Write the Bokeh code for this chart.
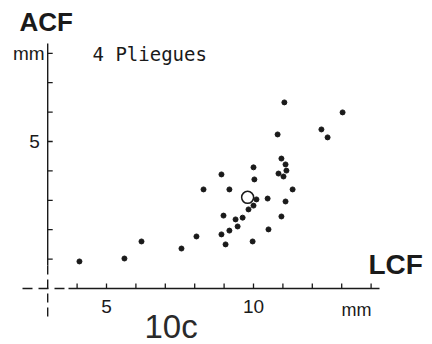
from bokeh.plotting import figure
from bokeh.models import Range1d, ColumnDataSource
from bokeh.core.properties import value
from bokeh.embed import file_html
from bokeh.resources import INLINE

# ---- data ----
lcf = [4.08, 5.61, 6.19, 7.55, 8.06, 8.30, 8.91, 8.91, 8.98, 9.05, 9.18, 9.18,
       9.39, 9.46, 9.63, 9.83, 10.00, 10.03, 10.00, 9.97, 10.10, 10.48, 10.51,
       10.82, 10.85, 10.95, 11.02, 11.09, 11.12, 10.95, 11.09, 11.33, 11.05,
       12.31, 12.52, 13.03]
acf = [0.92, 1.02, 1.60, 1.36, 1.77, 3.37, 3.88, 1.84, 2.48, 1.50, 3.37, 1.97,
       2.35, 2.11, 2.41, 2.69, 4.12, 3.71, 2.82, 1.60, 3.03, 3.06, 2.01,
       5.24, 3.91, 4.42, 3.81, 4.22, 4.01, 2.45, 2.96, 3.37, 6.33,
       5.41, 5.14, 5.99]
mean_lcf = [9.80]
mean_acf = [3.10]

x_ticks = [4, 5, 6, 7, 8, 9, 10, 11, 12, 13, 14]
x_tick_labels = {5: "5", 10: "10"}
y_ticks = [1, 2, 3, 4, 5, 6, 7, 8]
y_tick_labels = {5: "5", 8: "mm"}
title_text = "4 Pliegues"
x_title = "LCF"
y_title = "ACF"
panel_label = "10c"

# ---- geometry ----
W, H = 432, 344
S = 29.4            # pixels per mm
X0_PX, X0_VAL = 106, 5.0
Y0_PX = 288         # pixel row of y = 0

def dx(px):
    return X0_VAL + (px - X0_PX) / S

def dy(py):
    return (Y0_PX - py) / S

p = figure(width=W, height=H, output_backend="svg", toolbar_location=None,
           x_range=Range1d(dx(0), dx(W)), y_range=Range1d(dy(H), dy(0)),
           min_border=0, outline_line_color=None)
p.axis.visible = False
p.grid.visible = False
p.background_fill_color = "white"
p.border_fill_color = "white"

ink = "#1a1a1a"
ax_x = 3.0   # x value where the vertical axis sits
ax_y = 0.0   # y value where the horizontal axis sits

# axes: solid parts
p.segment(x0=[dx(68)], y0=[ax_y], x1=[dx(379)], y1=[ax_y], line_color=ink, line_width=1.4)
p.segment(x0=[ax_x], y0=[dy(265)], x1=[ax_x], y1=[dy(43)], line_color=ink, line_width=1.4)
# dashed extensions
p.segment(x0=[dx(22)], y0=[ax_y], x1=[dx(68)], y1=[ax_y], line_color=ink,
          line_width=1.4, line_dash="10 6")
p.segment(x0=[ax_x], y0=[dy(265)], x1=[ax_x], y1=[dy(316)], line_color=ink,
          line_width=1.4, line_dash="9 5")

# ticks
tk = 5 / S
p.segment(x0=x_ticks, y0=[ax_y] * len(x_ticks), x1=x_ticks,
          y1=[ax_y + tk] * len(x_ticks), line_color=ink, line_width=1.3)
p.segment(x0=[ax_x] * len(y_ticks), y0=y_ticks, x1=[ax_x + tk] * len(y_ticks),
          y1=y_ticks, line_color=ink, line_width=1.3)

# tick labels
xl = list(x_tick_labels.keys())
p.text(x=xl, y=[ax_y - 11 / S] * len(xl), text=[x_tick_labels[k] for k in xl],
       text_font=value("Liberation Sans"), text_font_size="19px",
       text_color=ink, text_align="center", text_baseline="top")
p.text(x=[ax_x], y=[5.0], text=[y_tick_labels[5]], x_offset=-8,
       text_font=value("Liberation Sans"), text_font_size="19px",
       text_color=ink, text_align="right", text_baseline="middle")
p.text(x=[ax_x], y=[8.0], text=[y_tick_labels[8]], x_offset=-3,
       text_font=value("Liberation Sans"), text_font_size="19px",
       text_color=ink, text_align="right", text_baseline="middle")
p.text(x=[dx(356)], y=[ax_y - 11 / S], text=["mm"],
       text_font=value("Liberation Sans"), text_font_size="18px",
       text_color=ink, text_align="center", text_baseline="top")

# titles
p.text(x=[dx(19)], y=[dy(21)], text=[y_title], text_font=value("Liberation Sans"),
       text_font_size="26px", text_font_style="bold", text_color=ink,
       text_align="left", text_baseline="middle")
p.text(x=[dx(368)], y=[dy(264)], text=[x_title], text_font=value("Liberation Sans"),
       text_font_size="28px", text_font_style="bold", text_color=ink,
       text_align="left", text_baseline="middle")
p.text(x=[dx(92)], y=[dy(53)], text=[title_text], text_font=value("DejaVu Sans Mono"),
       text_font_size="19px", text_color=ink, text_align="left",
       text_baseline="middle")
p.text(x=[dx(144)], y=[dy(326)], text=[panel_label], text_font=value("Liberation Sans"),
       text_font_size="33px", text_color="#2a2a2a", text_align="left",
       text_baseline="middle")

# data
src = ColumnDataSource(dict(x=lcf, y=acf))
p.scatter("x", "y", source=src, size=5, fill_color=ink, line_color=ink)
p.scatter(mean_lcf, mean_acf, size=12, fill_color=None, line_color=ink, line_width=1.5)

open("out.html", "w").write(file_html(p, INLINE))
